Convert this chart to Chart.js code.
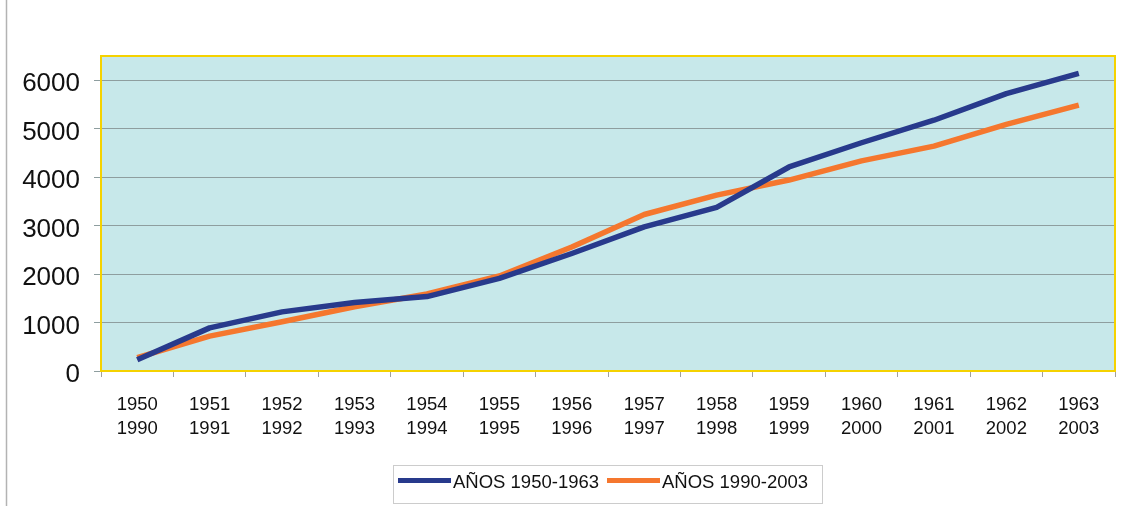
<!DOCTYPE html>
<html>
<head>
<meta charset="utf-8">
<script src="https://cdn.jsdelivr.net/npm/chart.js@4.4.0/dist/chart.umd.min.js"></script>
<style>
  html, body { margin: 0; padding: 0; background: #fff; }
  #wrap { width: 1128px; height: 506px; position: relative; }
</style>
</head>
<body>
<div id="wrap"><canvas id="chart" width="1128" height="506"></canvas></div>
<script>
// categorias (dos lineas por etiqueta)
const years1 = ['1950', '1951', '1952', '1953', '1954', '1955', '1956', '1957', '1958', '1959', '1960', '1961', '1962', '1963'];
const years2 = ['1990', '1991', '1992', '1993', '1994', '1995', '1996', '1997', '1998', '1999', '2000', '2001', '2002', '2003'];

// valores
const serieA = [230, 890, 1220, 1415, 1535, 1910, 2425, 2975, 3375, 4210, 4710, 5175, 5725, 6140];
const serieB = [275, 720, 1015, 1325, 1590, 1960, 2560, 3230, 3630, 3940, 4335, 4640, 5090, 5485];

const yTicks = [0, 1000, 2000, 3000, 4000, 5000, 6000];

const FONT = "'Liberation Sans', Arial, sans-serif";
const gridGrey = '#8e9e9f';

// fondo, borde amarillo, linea izquierda y leyenda con recuadro
const framePlugin = {
    id: 'frame',
    beforeDraw(chart) {
        const ctx = chart.ctx;
        const a = chart.chartArea;
        ctx.save();
        ctx.strokeStyle = '#b3b3b3';
        ctx.lineWidth = 1.5;
        ctx.beginPath();
        ctx.moveTo(6.5, 0);
        ctx.lineTo(6.5, chart.height);
        ctx.stroke();
        ctx.fillStyle = '#c7e8ea';
        ctx.fillRect(a.left, a.top, a.right - a.left, a.bottom - a.top);
        ctx.restore();
    },
    beforeDatasetsDraw(chart) {
        const ctx = chart.ctx;
        const a = chart.chartArea;
        ctx.save();
        ctx.strokeStyle = '#f5d200';
        ctx.lineWidth = 2;
        ctx.strokeRect(a.left, a.top, a.right - a.left, a.bottom - a.top);
        ctx.restore();
    },
    afterDraw(chart) {
        const ctx = chart.ctx;
        ctx.save();
        ctx.strokeStyle = '#cccccc';
        ctx.lineWidth = 1;
        ctx.strokeRect(393.5, 465.5, 429, 38);
        const starts = [398, 607];
        ctx.font = '18.5px ' + FONT;
        ctx.textBaseline = 'middle';
        chart.data.datasets.forEach((ds, i) => {
            ctx.fillStyle = ds.borderColor;
            ctx.fillRect(starts[i], 478, 53, 5);
            ctx.fillStyle = '#111';
            ctx.fillText(ds.label, starts[i] + 55, 483);
        });
        ctx.restore();
    }
};

new Chart(document.getElementById('chart'), {
    type: 'line',
    data: {
        labels: years1.map((y, i) => [y, years2[i]]),
        datasets: [
            {
                label: 'AÑOS 1950-1963',
                data: serieA,
                borderColor: '#283a8c',
                borderWidth: 5.5,
                borderJoinStyle: 'round',
                pointRadius: 0,
                tension: 0,
                fill: false
            },
            {
                label: 'AÑOS 1990-2003',
                data: serieB,
                borderColor: '#f5772e',
                borderWidth: 5.5,
                borderJoinStyle: 'round',
                pointRadius: 0,
                tension: 0,
                fill: false
            }
        ]
    },
    options: {
        responsive: false,
        animation: false,
        layout: { padding: { top: 56, right: 13, bottom: 0, left: 0 } },
        plugins: {
            legend: { display: false },
            tooltip: { enabled: false }
        },
        scales: {
            x: {
                offset: true,
                border: { display: false },
                grid: {
                    offset: true,
                    drawOnChartArea: false,
                    drawTicks: true,
                    tickLength: 6,
                    color: '#a0a0a0'
                },
                ticks: {
                    color: '#111',
                    padding: 16,
                    maxRotation: 0,
                    autoSkip: false,
                    font: { family: FONT, size: 18.5, lineHeight: 1.3 }
                },
                afterFit(scale) { scale.height = 135; }
            },
            y: {
                min: 0,
                max: 6500,
                border: { display: false },
                afterBuildTicks(scale) {
                    scale.ticks = yTicks.map(v => ({ value: v }));
                },
                grid: {
                    color: gridGrey,
                    lineWidth: 1,
                    tickLength: 7
                },
                ticks: {
                    color: '#111',
                    padding: 14,
                    labelOffset: 4,
                    font: { family: FONT, size: 26 },
                    callback: v => String(v)
                },
                afterFit(scale) { scale.width = 101; }
            }
        }
    },
    plugins: [framePlugin]
});
</script>
</body>
</html>
